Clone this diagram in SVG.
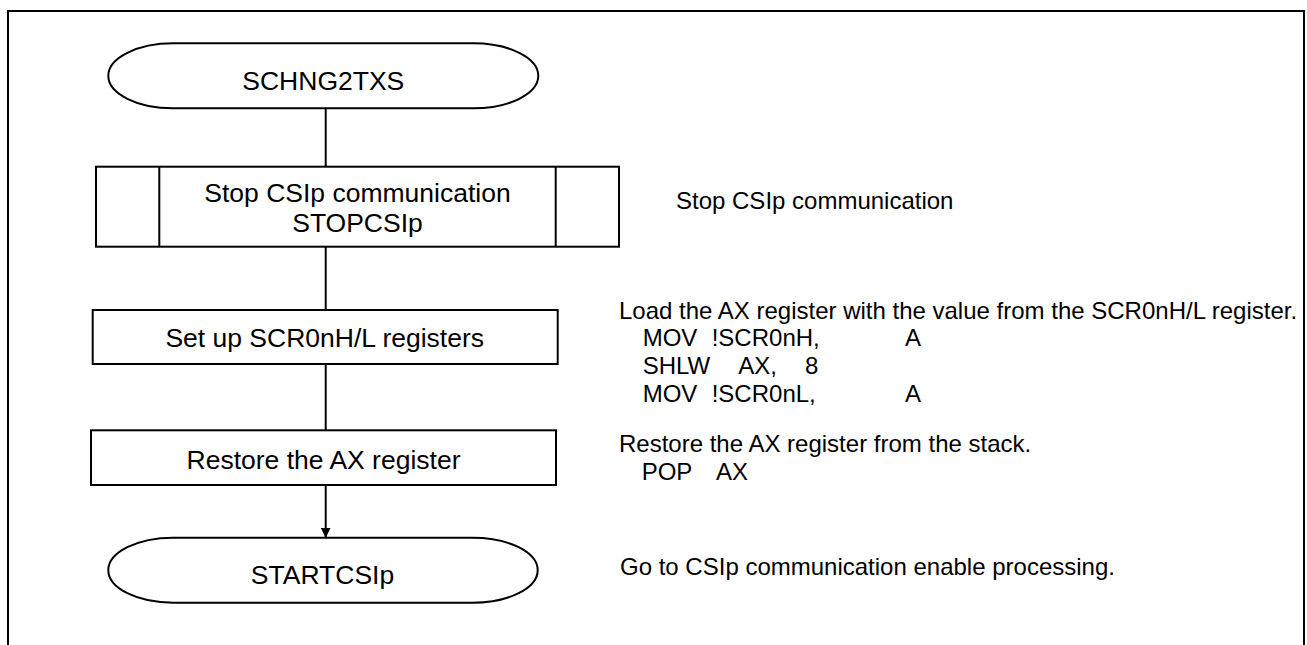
<svg xmlns="http://www.w3.org/2000/svg" width="1307" height="645" viewBox="0 0 1307 645">
<style>
.s{fill:#fff;stroke:#000;stroke-width:2}
.c{stroke:#000;stroke-width:2;fill:none}
.t{font-family:"Liberation Sans",Arial,sans-serif;font-size:26.5px;fill:#000;text-anchor:middle}
.a{font-family:"Liberation Sans",Arial,sans-serif;font-size:24px;fill:#000}
</style>
<defs>
<marker id="arr" markerWidth="10" markerHeight="10" refX="10" refY="5" orient="auto" markerUnits="userSpaceOnUse">
<path d="M0,0 L10,5 L0,10 Z" fill="#000"/>
</marker>
</defs>
<rect x="0" y="0" width="1307" height="645" fill="#fff"/>
<path class="c" d="M8,650 V11 H1304 V650"/>
<g id="connectors">
<line class="c" x1="325.7" y1="108.3" x2="325.7" y2="166.7"/>
<line class="c" x1="325.7" y1="246.7" x2="325.7" y2="310"/>
<line class="c" x1="325.7" y1="364" x2="325.7" y2="430.3"/>
<line class="c" x1="325.7" y1="485" x2="325.7" y2="537.7" marker-end="url(#arr)"/>
</g>
<g id="start">
<rect class="s" x="108.3" y="43.3" width="430" height="65" rx="65" ry="32.5"/>
<text class="t" x="323.3" y="90">SCHNG2TXS</text>
</g>
<g id="stopcsip">
<rect class="s" x="96" y="166.7" width="523" height="80"/>
<line class="c" x1="159.3" y1="166.7" x2="159.3" y2="246.7"/>
<line class="c" x1="555.7" y1="166.7" x2="555.7" y2="246.7"/>
<text class="t" x="357.5" y="201.7">Stop CSIp communication</text>
<text class="t" x="357.5" y="231.7">STOPCSIp</text>
</g>
<g id="setup">
<rect class="s" x="92.7" y="310" width="465" height="54"/>
<text class="t" x="324.7" y="346.5">Set up SCR0nH/L registers</text>
</g>
<g id="restore">
<rect class="s" x="91" y="430.3" width="465" height="54.7"/>
<text class="t" x="323.5" y="469">Restore the AX register</text>
</g>
<g id="end">
<rect class="s" x="108.3" y="537.7" width="429.4" height="65" rx="65" ry="32.5"/>
<text class="t" x="322.5" y="584">STARTCSIp</text>
</g>
<g id="notes">
<text class="a" x="676" y="208.5">Stop CSIp communication</text>
<text class="a" x="619" y="318.5">Load the AX register with the value from the SCR0nH/L register.</text>
<text class="a" x="642.7" y="346">MOV</text>
<text class="a" x="711.7" y="346">!SCR0nH,</text>
<text class="a" x="905" y="346">A</text>
<text class="a" x="642.7" y="374">SHLW</text>
<text class="a" x="738.3" y="374">AX,</text>
<text class="a" x="805" y="374">8</text>
<text class="a" x="642.7" y="401.5">MOV</text>
<text class="a" x="711.7" y="401.5">!SCR0nL,</text>
<text class="a" x="905" y="401.5">A</text>
<text class="a" x="619" y="451.7">Restore the AX register from the stack.</text>
<text class="a" x="641.7" y="479.5">POP</text>
<text class="a" x="716" y="479.5">AX</text>
<text class="a" x="620" y="575">Go to CSIp communication enable processing.</text>
</g>
</svg>
